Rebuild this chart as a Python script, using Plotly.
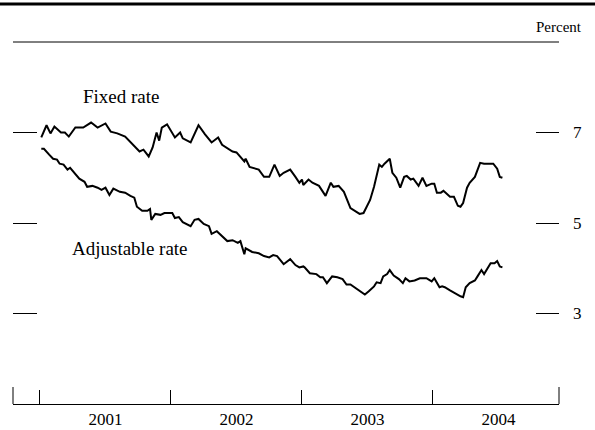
import plotly.graph_objects as go

# Dates as decimal years
fixed_t = [2001.01, 2001.05, 2001.08, 2001.11, 2001.16, 2001.19, 2001.22, 2001.27, 2001.33, 2001.39,
           2001.44, 2001.50, 2001.54, 2001.59, 2001.65, 2001.71, 2001.76, 2001.79, 2001.83, 2001.86,
           2001.89, 2001.91, 2001.93, 2001.97, 2002.03, 2002.07, 2002.09, 2002.15, 2002.21, 2002.26,
           2002.31, 2002.36, 2002.39, 2002.47, 2002.50, 2002.56, 2002.57, 2002.60, 2002.63, 2002.67,
           2002.71, 2002.75, 2002.79, 2002.83, 2002.86, 2002.91, 2002.95, 2002.98, 2003.00, 2003.01,
           2003.05, 2003.08, 2003.13, 2003.18, 2003.22, 2003.24, 2003.28, 2003.32, 2003.37, 2003.40,
           2003.44, 2003.47, 2003.52, 2003.55, 2003.59, 2003.61, 2003.63, 2003.67, 2003.69, 2003.72,
           2003.75, 2003.78, 2003.80, 2003.83, 2003.85, 2003.89, 2003.92, 2003.95, 2003.99, 2004.01,
           2004.03, 2004.06, 2004.08, 2004.13, 2004.16, 2004.19, 2004.21, 2004.23, 2004.26, 2004.28,
           2004.32, 2004.36, 2004.39, 2004.43, 2004.46, 2004.49, 2004.51, 2004.53]
fixed_v = [6.89, 7.16, 6.98, 7.13, 7.00, 7.00, 6.91, 7.11, 7.11, 7.22,
           7.11, 7.20, 7.02, 6.98, 6.91, 6.73, 6.58, 6.62, 6.47, 6.67,
           7.00, 6.82, 7.11, 7.18, 6.89, 7.00, 6.87, 6.78, 7.16, 6.96,
           6.78, 6.89, 6.73, 6.58, 6.56, 6.36, 6.42, 6.24, 6.22, 6.18,
           6.02, 6.02, 6.29, 6.04, 6.11, 6.18, 6.02, 5.89, 5.96, 5.84,
           5.96, 5.89, 5.82, 5.60, 5.89, 5.80, 5.82, 5.69, 5.33, 5.27,
           5.20, 5.22, 5.51, 5.80, 6.29, 6.24, 6.31, 6.42, 6.11, 6.00,
           5.78, 6.02, 6.04, 5.96, 5.98, 5.82, 6.00, 5.82, 5.87, 5.87,
           5.67, 5.67, 5.71, 5.58, 5.58, 5.38, 5.36, 5.44, 5.78, 5.89,
           6.02, 6.33, 6.31, 6.31, 6.31, 6.20, 6.02, 6.00]

adj_t = [2001.01, 2001.03, 2001.07, 2001.10, 2001.13, 2001.15, 2001.18, 2001.21, 2001.23, 2001.26,
         2001.30, 2001.34, 2001.36, 2001.40, 2001.44, 2001.47, 2001.50, 2001.53, 2001.56, 2001.61,
         2001.65, 2001.69, 2001.72, 2001.74, 2001.78, 2001.82, 2001.84, 2001.85, 2001.88, 2001.92,
         2001.95, 2002.01, 2002.03, 2002.06, 2002.09, 2002.15, 2002.18, 2002.21, 2002.25, 2002.29,
         2002.31, 2002.35, 2002.39, 2002.43, 2002.47, 2002.51, 2002.53, 2002.56, 2002.57, 2002.62,
         2002.67, 2002.71, 2002.75, 2002.78, 2002.81, 2002.86, 2002.91, 2002.95, 2002.98, 2003.01,
         2003.02, 2003.06, 2003.11, 2003.14, 2003.16, 2003.19, 2003.23, 2003.27, 2003.31, 2003.34,
         2003.37, 2003.40, 2003.44, 2003.48, 2003.51, 2003.55, 2003.57, 2003.60, 2003.62, 2003.65,
         2003.67, 2003.70, 2003.74, 2003.77, 2003.79, 2003.82, 2003.86, 2003.90, 2003.95, 2003.99,
         2004.01, 2004.05, 2004.07, 2004.09, 2004.13, 2004.17, 2004.21, 2004.23, 2004.25, 2004.28,
         2004.32, 2004.34, 2004.37, 2004.39, 2004.44, 2004.47, 2004.49, 2004.51, 2004.53]
adj_v = [6.64, 6.64, 6.51, 6.42, 6.40, 6.31, 6.29, 6.18, 6.22, 6.11,
         5.98, 5.91, 5.80, 5.82, 5.78, 5.73, 5.78, 5.62, 5.76, 5.69,
         5.67, 5.60, 5.56, 5.36, 5.27, 5.27, 5.31, 5.07, 5.20, 5.18,
         5.22, 5.22, 5.11, 5.13, 5.02, 4.93, 5.07, 5.09, 4.98, 4.93,
         4.76, 4.82, 4.71, 4.60, 4.62, 4.56, 4.60, 4.31, 4.44, 4.36,
         4.33, 4.27, 4.24, 4.29, 4.27, 4.09, 4.20, 4.07, 4.02, 4.04,
         4.02, 3.89, 3.87, 3.80, 3.80, 3.67, 3.82, 3.80, 3.76, 3.64,
         3.64, 3.58, 3.49, 3.42, 3.49, 3.60, 3.69, 3.67, 3.82, 3.87,
         3.96, 3.84, 3.76, 3.67, 3.78, 3.71, 3.73, 3.78, 3.78, 3.71,
         3.78, 3.58, 3.60, 3.58, 3.51, 3.44, 3.38, 3.36, 3.58, 3.67,
         3.73, 3.82, 3.96, 3.87, 4.11, 4.11, 4.16, 4.04, 4.02]

year_pos = [2001.5, 2002.5, 2003.5, 2004.5]
year_labels = ["2001", "2002", "2003", "2004"]
year_bounds = [2001, 2002, 2003, 2004]
y_ticks = [3, 5, 7]
y_tick_labels = ["3", "5", "7"]
x_range = [2000.794, 2004.962]
y_range = [1, 9]

FONT = "Liberation Serif, Times New Roman, serif"

fig = go.Figure()
fig.add_trace(go.Scatter(x=fixed_t, y=fixed_v, mode="lines", name="Fixed rate",
                         line=dict(color="black", width=2), showlegend=False, hoverinfo="skip"))
fig.add_trace(go.Scatter(x=adj_t, y=adj_v, mode="lines", name="Adjustable rate",
                         line=dict(color="black", width=2), showlegend=False, yaxis="y2",
                         hoverinfo="skip"))

W, H = 595, 430
ml, mr, mt, mb = 13, 36, 42, 26
pw, ph = W - ml - mr, H - mt - mb

fig.update_layout(
    width=W, height=H,
    margin=dict(l=ml, r=mr, t=mt, b=mb, autoexpand=False),
    paper_bgcolor="white", plot_bgcolor="white",
    font=dict(family=FONT, color="black", size=16),
    xaxis=dict(range=x_range, tickmode="array", tickvals=year_pos, ticktext=year_labels,
               ticks="", showline=True, linecolor="black", linewidth=1, automargin=False,
               showgrid=False, zeroline=False, tickfont=dict(size=17, family=FONT),
               minor=dict(tickmode="array", tickvals=year_bounds, ticks="inside", ticklen=14,
                          tickcolor="black", tickwidth=1, showgrid=False)),
    yaxis=dict(range=y_range, tickmode="array", tickvals=y_ticks, ticks="inside", ticklen=24,
               tickcolor="black", showticklabels=False, showline=False, showgrid=False,
               zeroline=False, automargin=False),
    yaxis2=dict(range=y_range, overlaying="y", side="right", tickmode="array", tickvals=y_ticks,
                ticktext=y_tick_labels, ticks="inside", ticklen=23, tickcolor="black",
                showline=False, showgrid=False, zeroline=False, ticklabelstandoff=13,
                automargin=False, tickfont=dict(size=17, family=FONT)),
    shapes=[
        dict(type="line", xref="paper", yref="paper", x0=-ml / pw, x1=(W - ml) / pw,
             y0=1 + (mt - 4) / ph, y1=1 + (mt - 4) / ph, line=dict(color="black", width=3)),
        dict(type="line", xref="paper", yref="paper", x0=0, x1=1, y0=1, y1=1,
             line=dict(color="black", width=1)),
        dict(type="line", xref="paper", yref="paper", x0=0, x1=0, y0=0, y1=17 / ph,
             line=dict(color="black", width=1)),
        dict(type="line", xref="paper", yref="paper", x0=1, x1=1, y0=0, y1=17 / ph,
             line=dict(color="black", width=1)),
    ],
    annotations=[
        dict(text="Percent", xref="paper", yref="paper", x=1 + 25 / pw, y=1 + 15 / ph,
             xanchor="right", yanchor="middle", showarrow=False, font=dict(size=15, family=FONT)),
        dict(text="Fixed rate", x=2001.62, y=7.8, xref="x", yref="y", showarrow=False,
             xanchor="center", yanchor="middle", font=dict(size=19, family=FONT)),
        dict(text="Adjustable rate", x=2001.69, y=4.43, xref="x", yref="y", showarrow=False,
             xanchor="center", yanchor="middle", font=dict(size=19, family=FONT)),
    ],
)

fig.write_html("out.html", config={"displayModeBar": False, "staticPlot": True},
               post_script="document.body.style.margin='0';document.body.style.overflow='hidden';")
